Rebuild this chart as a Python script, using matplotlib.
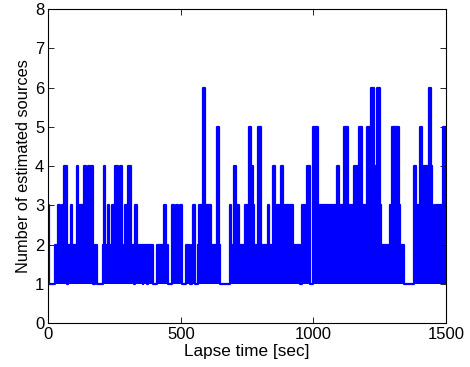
import matplotlib
matplotlib.use("Agg")
import matplotlib.pyplot as plt

# start time [sec] of each stretch and the highest count reached in it
seg_start = [0, 2, 23, 37, 44, 50, 56, 60, 70, 72, 75, 84, 90, 107, 113, 130,
             136, 142, 151, 157, 160, 167, 170, 176, 185, 205, 211, 215, 223,
             230, 240, 252, 264, 271, 277, 290, 298, 302, 310, 321, 326, 333,
             356, 358, 372, 374, 396, 409, 437, 443, 452, 465, 474, 481, 488,
             495, 503, 519, 536, 540, 545, 553, 566, 568, 583, 591, 614, 636,
             644, 648, 685, 690, 700, 708, 718, 742, 755, 763, 771, 775, 792,
             801, 828, 833, 849, 855, 862, 870, 878, 884, 893, 924, 949, 956,
             968, 977, 987, 1000, 1018, 1058, 1062, 1090, 1097, 1116, 1131,
             1140, 1145, 1154, 1162, 1166, 1172, 1184, 1202, 1214, 1217, 1228,
             1240, 1250, 1255, 1290, 1296, 1322, 1325, 1340, 1380, 1387, 1402,
             1410, 1436, 1444, 1448, 1452, 1460, 1489, 1500]
seg_peak = [3, 1, 2, 3, 2, 3, 2, 4, 2, 1, 2, 3, 2, 4, 3, 2,
            4, 3, 4, 3, 4, 2, 1, 2, 1, 2, 4, 2, 3,
            2, 3, 4, 3, 4, 2, 3, 2, 4, 2, 1, 3, 2,
            1, 2, 1, 2, 1, 2, 3, 2, 1, 3, 2, 3, 2,
            3, 1, 2, 1, 2, 3, 1, 2, 3, 6, 3, 2, 5,
            2, 1, 3, 2, 4, 3, 2, 3, 5, 4, 3, 2, 5,
            2, 3, 2, 4, 2, 3, 2, 4, 2, 3, 2, 1, 3,
            2, 4, 1, 5, 3, 2, 3, 4, 3, 5, 3,
            2, 3, 4, 3, 4, 5, 3, 5, 4, 6, 4,
            6, 3, 2, 3, 5, 3, 2, 1, 4, 3, 5,
            4, 6, 4, 3, 2, 3, 5, 5]

plt.rcParams['font.family'] = ['Liberation Sans', 'DejaVu Sans']
plt.rcParams['font.size'] = 12

fig = plt.figure(figsize=(4.7, 3.67), dpi=100)
ax = fig.add_axes([0.103, 0.12, 0.846, 0.855])

ax.fill_between(seg_start, 1, seg_peak, step='post', color='#0000ff', lw=0)
ax.step(seg_start, seg_peak, where='post', color='#0000ff', lw=1.6)

ax.set_xlim(0, 1500)
ax.set_ylim(0, 8)
ax.set_xticks([0, 500, 1000, 1500])
ax.set_yticks(range(0, 9))
ax.tick_params(direction='in', top=True, right=True, length=4, width=0.6, pad=3)
for s in ax.spines.values():
    s.set_linewidth(0.8)
ax.set_xlabel('Lapse time [sec]', fontsize=12.3, labelpad=1)
ax.set_ylabel('Number of estimated sources', fontsize=11.8, labelpad=3)

fig.savefig('out.png', dpi=100)
